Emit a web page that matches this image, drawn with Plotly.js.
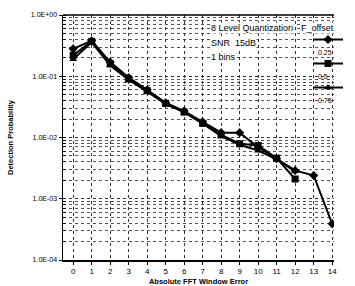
<!DOCTYPE html>
<html><head><meta charset="utf-8">
<script src="https://cdn.plot.ly/plotly-3.0.1.min.js"></script>
<style>html,body{margin:0;padding:0;background:#fff}#c{width:355px;height:286px}</style>
</head><body><div id="c"></div>
<script>
const xErr = [0,1,2,3,4,5,6,7,8,9,10,11,12,13,14];
const off025 = [0.28,0.38,0.17,0.095,0.060,0.037,0.027,0.018,0.012,0.012,0.0069,0.0045,0.0029,0.0024,0.00039];
const off050 = [0.22,0.37,0.16,0.090,0.058,0.036,0.026,0.017,0.011,0.0079,0.0074,0.0046,0.0021];
const off075 = [0.19,0.36,0.15,0.088,0.056,0.035,0.026,0.017,0.0105,0.0076,0.0061,0.0044,0.0028];
const seriesNames = ['0.25','0.5','0.75'];
const legendTitle = 'F_offset';
const yTickVals = [1e-4,1e-3,1e-2,1e-1,1];
const yTickText = ['1.0E-04','1.0E-03','1.0E-02','1.0E-01','1.0E+00'];
const noteLines = ['8 Level Quantization','SNR  15dB','1 bins'];

const symbols = ['diamond','square','triangle-up'];
const data = [off025,off050,off075].map((ys,i)=>({
  x: xErr.slice(0,ys.length), y: ys, name: '&nbsp;', legendgroup:'g'+i, type:'scatter', mode:'lines+markers',
  line:{color:'#000',width:2}, marker:{symbol:symbols[i],size:7,color:'#000'}
}));
const F = 'Liberation Sans, Arial, sans-serif';
const H = 245, T = 15, L = 63, W = 292;
const py = p => (T + H - p) / H;
const px = p => (p - L) / W;
const anns = noteLines.map((t,i)=>({text:t,xref:'paper',yref:'paper',x:px(221),y:py(28+i*14.5),xanchor:'left',yanchor:'middle',showarrow:false,
    font:{family:F,size:9,color:'#000'},bgcolor:'#fff',borderpad:0}));
anns.push({text:legendTitle,xref:'paper',yref:'paper',x:px(318),y:py(28),xanchor:'left',yanchor:'middle',showarrow:false,
    font:{family:F,size:9,color:'#000'},bgcolor:'#fff',borderpad:0});
seriesNames.forEach((n,i)=>anns.push({text:n,xref:'paper',yref:'paper',x:px(337),y:py(52+i*24),xanchor:'left',yanchor:'middle',showarrow:false,
    font:{family:F,size:7,color:'#000'},borderpad:0}));
const layout = {
  width:355, height:286,
  margin:{l:L,r:0,t:T,b:26,pad:0},
  paper_bgcolor:'#fff', plot_bgcolor:'#fff',
  showlegend:true,
  legend:{x:px(327),xanchor:'left',y:py(25),yanchor:'top',bgcolor:'rgba(0,0,0,0)',
    font:{family:F,size:7,color:'#000'},itemwidth:30, tracegroupgap:5, valign:'middle'},
  xaxis:{range:[-0.55,14.1],tickvals:xErr,ticks:'outside',ticklen:3,tickcolor:'#000',
    showline:true,linecolor:'#000',linewidth:1.5,mirror:false,
    showgrid:true,gridcolor:'#333',griddash:'dot',gridwidth:1,zeroline:false,
    tickfont:{family:F,size:8,color:'#000'},
    title:{text:'<b>Absolute FFT Window Error</b>',font:{family:F,size:7.5,color:'#000'},standoff:4}},
  yaxis:{type:'log',range:[-4,0],tickvals:yTickVals,ticktext:yTickText,ticks:'outside',ticklen:3,tickcolor:'#000',
    showline:true,linecolor:'#000',linewidth:1.5,
    showgrid:true,gridcolor:'#333',griddash:'dot',gridwidth:1,
    minor:{showgrid:true,gridcolor:'#555',griddash:'dot',gridwidth:1,ticks:'inside',ticklen:3,tickcolor:'#000',dtick:'D1'},
    tickfont:{family:F,size:7,color:'#000'},
    title:{text:'<b>Detection Probability</b>',font:{family:F,size:7.5,color:'#000'},standoff:16}},
  shapes:[{type:'line',xref:'paper',yref:'paper',x0:0,x1:1,y0:1,y1:1,line:{color:'#000',width:1.5}}],
  annotations: anns
};
Plotly.newPlot('c',data,layout,{staticPlot:true});
</script></body></html>
